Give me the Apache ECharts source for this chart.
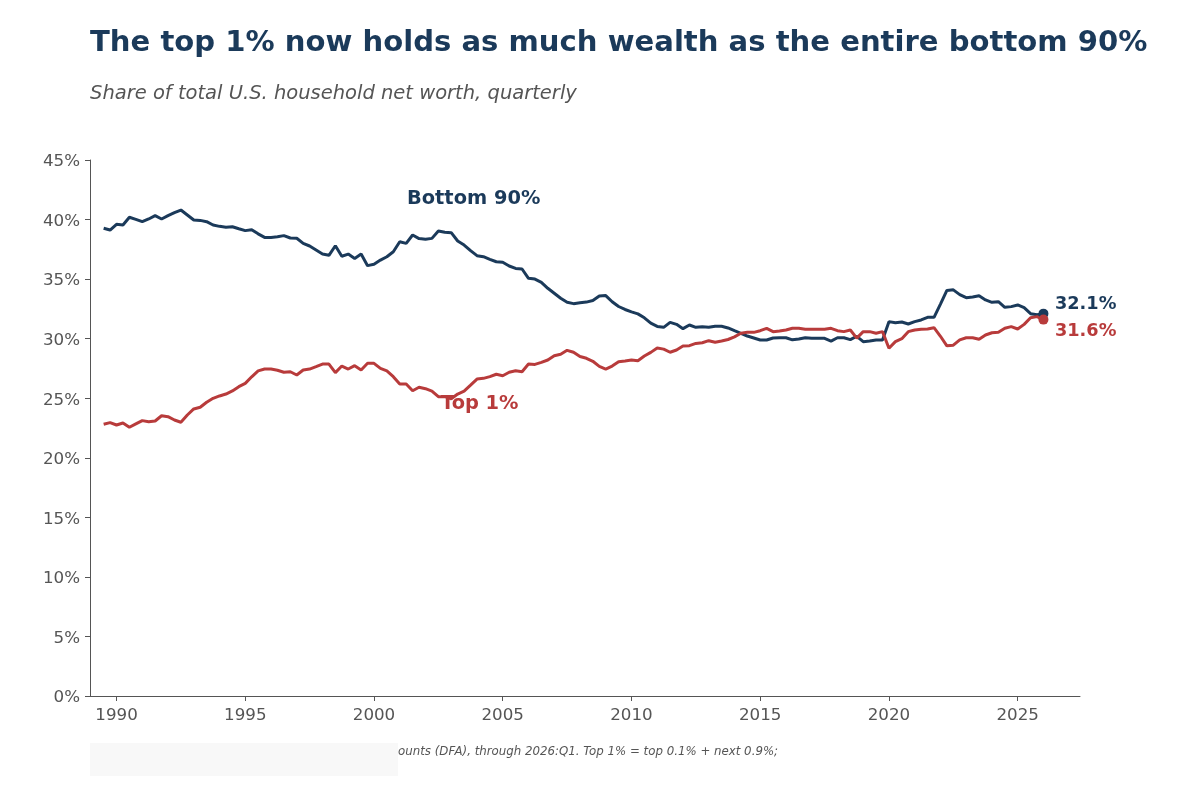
<!DOCTYPE html>
<html>
<head>
<meta charset="utf-8">
<title>Top 1% vs bottom 90% wealth share</title>
<script src="https://cdn.jsdelivr.net/npm/echarts@6/dist/echarts.min.js"></script>
<style>
  html, body { margin: 0; padding: 0; background: #fff; }
  #chart { width: 1200px; height: 800px; }
</style>
</head>
<body>
<div id="chart"></div>
<script>
// quarterly, 1989:Q3 .. 2026:Q1 (147 quarters)
var startYear = 1989.5;
var quarterCount = 147;
var quarters = [];
for (var q = 0; q < quarterCount; q++) {
  quarters.push(startYear + q * 0.25);
}

// share of total net worth, %
var bottom90 = [
  39.27, 39.12, 39.6, 39.54, 40.19, 40.02, 39.82, 40.05, 40.33, 40.05,
  40.33, 40.58, 40.8, 40.38, 39.96, 39.93, 39.82, 39.54, 39.43, 39.35,
  39.4, 39.23, 39.07, 39.15, 38.8, 38.5, 38.5, 38.55, 38.65, 38.45,
  38.43, 38.0, 37.78, 37.44, 37.1, 37.0, 37.8, 36.92, 37.1, 36.74,
  37.1, 36.13, 36.24, 36.6, 36.88, 37.3, 38.14, 38.0, 38.7, 38.4,
  38.34, 38.42, 39.04, 38.93, 38.9, 38.2, 37.86, 37.39, 36.97, 36.88,
  36.66, 36.46, 36.41, 36.1, 35.9, 35.85, 35.07, 35.0, 34.73, 34.23,
  33.81, 33.39, 33.05, 32.94, 33.02, 33.07, 33.2, 33.58, 33.62, 33.1,
  32.7, 32.45, 32.25, 32.08, 31.75, 31.3, 31.03, 30.95, 31.37, 31.2,
  30.84, 31.15, 30.95, 31.0, 30.95, 31.04, 31.04, 30.9, 30.67, 30.45,
  30.22, 30.06, 29.89, 29.89, 30.06, 30.08, 30.08, 29.9, 29.97, 30.08,
  30.03, 30.03, 30.03, 29.8, 30.08, 30.08, 29.92, 30.2, 29.75, 29.8,
  29.89, 29.89, 31.43, 31.34, 31.4, 31.23, 31.43, 31.57, 31.79, 31.79,
  32.9, 34.05, 34.1, 33.7, 33.44, 33.5, 33.6, 33.25, 33.05, 33.1,
  32.63, 32.69, 32.83, 32.6, 32.1, 32.0, 32.1
];
var top1 = [
  22.81, 22.95, 22.75, 22.92, 22.56, 22.84, 23.12, 23.03, 23.09, 23.53,
  23.45, 23.17, 22.98, 23.59, 24.1, 24.24, 24.66, 24.99, 25.19, 25.35,
  25.61, 25.97, 26.25, 26.8, 27.3, 27.45, 27.45, 27.35, 27.18, 27.22,
  26.95, 27.37, 27.45, 27.65, 27.87, 27.87, 27.15, 27.7, 27.45, 27.73,
  27.37, 27.93, 27.93, 27.5, 27.29, 26.81, 26.19, 26.19, 25.63, 25.92,
  25.8, 25.6, 25.13, 25.13, 24.95, 25.35, 25.6, 26.1, 26.61, 26.67,
  26.81, 27.01, 26.89, 27.18, 27.3, 27.23, 27.87, 27.84, 28.01, 28.21,
  28.57, 28.69, 29.02, 28.86, 28.5, 28.35, 28.1, 27.67, 27.45, 27.7,
  28.07, 28.13, 28.21, 28.15, 28.54, 28.85, 29.22, 29.12, 28.86, 29.05,
  29.38, 29.41, 29.6, 29.66, 29.83, 29.7, 29.8, 29.93, 30.15, 30.45,
  30.53, 30.53, 30.67, 30.87, 30.59, 30.64, 30.73, 30.87, 30.87, 30.79,
  30.79, 30.79, 30.79, 30.87, 30.67, 30.59, 30.73, 30.05, 30.59, 30.59,
  30.45, 30.59, 29.19, 29.75, 30.0, 30.59, 30.73, 30.79, 30.81, 30.92,
  30.2, 29.4, 29.45, 29.9, 30.08, 30.08, 29.95, 30.31, 30.5, 30.53,
  30.87, 31.01, 30.81, 31.2, 31.76, 31.85, 31.6
];

var yearTicks = [1990, 1995, 2000, 2005, 2010, 2015, 2020, 2025];
var endLabels = ['32.1%', '31.6%'];

var NAVY = '#1b3a5a';
var RED = '#b83b3b';
var GRAY = '#555555';
var FONT = 'DejaVu Sans';

function pairs(values) {
  return values.map(function (v, i) { return [quarters[i], v]; });
}
var last = quarterCount - 1;

var chart = echarts.init(document.getElementById('chart'), null, { renderer: 'canvas' });

var option = {
  backgroundColor: '#ffffff',
  animation: false,
  textStyle: { fontFamily: FONT },
  grid: { left: 90, right: 120, top: 160, bottom: 104 },
  xAxis: {
    type: 'value',
    min: 1988.97,
    max: 2027.42,
    splitLine: { show: false },
    axisLine: { show: true, lineStyle: { color: GRAY, width: 1 } },
    axisTick: { show: true, length: 5, lineStyle: { color: GRAY }, customValues: yearTicks },
    axisLabel: {
      color: GRAY, fontSize: 16.7, fontFamily: FONT, margin: 11,
      customValues: yearTicks,
      formatter: function (v) { return String(v); }
    }
  },
  yAxis: {
    type: 'value',
    min: 0,
    max: 45,
    interval: 5,
    splitLine: { show: false },
    axisLine: { show: true, lineStyle: { color: GRAY, width: 1 } },
    axisTick: { show: true, length: 5, lineStyle: { color: GRAY } },
    axisLabel: {
      color: GRAY, fontSize: 16.7, fontFamily: FONT, margin: 10,
      formatter: '{v|{value}%}',
      rich: { v: { color: GRAY, fontSize: 16.7, fontFamily: FONT, padding: [4, 0, 0, 0] } }
    }
  },
  series: [
    {
      name: 'Bottom 90%',
      type: 'line',
      data: pairs(bottom90),
      symbol: 'none',
      lineStyle: { color: NAVY, width: 3 },
      z: 2
    },
    {
      name: 'Top 1%',
      type: 'line',
      data: pairs(top1),
      symbol: 'none',
      lineStyle: { color: RED, width: 3 },
      z: 3
    },
    {
      // end dots
      type: 'scatter',
      symbolSize: 10,
      data: [
        { value: [quarters[last], bottom90[last]], itemStyle: { color: NAVY, opacity: 1 } },
        { value: [quarters[last], top1[last]], itemStyle: { color: RED, opacity: 1 } }
      ],
      z: 4
    }
  ],
  graphic: [
    {
      type: 'text', left: 90, top: 29,
      style: { text: 'The top 1% now holds as much wealth as the entire bottom 90%', fill: NAVY, font: 'bold 29.1px "DejaVu Sans"' }
    },
    {
      type: 'text', left: 90, top: 84,
      style: { text: 'Share of total U.S. household net worth, quarterly', fill: GRAY, font: 'italic 19.5px "DejaVu Sans"' }
    },
    {
      type: 'text', left: 407, top: 189,
      style: { text: 'Bottom 90%', fill: NAVY, font: 'bold 19.4px "DejaVu Sans"' }
    },
    {
      type: 'text', left: 441, top: 394,
      style: { text: 'Top 1%', fill: RED, font: 'bold 19.4px "DejaVu Sans"' },
      z: 10
    },
    {
      type: 'text', left: 1055, top: 295,
      style: { text: endLabels[0], fill: NAVY, font: 'bold 17.7px "DejaVu Sans"' }
    },
    {
      type: 'text', left: 1055, top: 322,
      style: { text: endLabels[1], fill: RED, font: 'bold 17.7px "DejaVu Sans"' }
    },
    {
      // blurred-out start of the source note
      type: 'rect', left: 90, top: 743,
      shape: { width: 308, height: 33 },
      style: { fill: '#f8f8f8' }
    },
    {
      type: 'text', left: 398, top: 746,
      style: { text: 'ounts (DFA), through 2026:Q1. Top 1% = top 0.1% + next 0.9%;', fill: GRAY, font: 'italic 11.8px "DejaVu Sans"' }
    }
  ]
};

chart.setOption(option);
</script>
</body>
</html>
